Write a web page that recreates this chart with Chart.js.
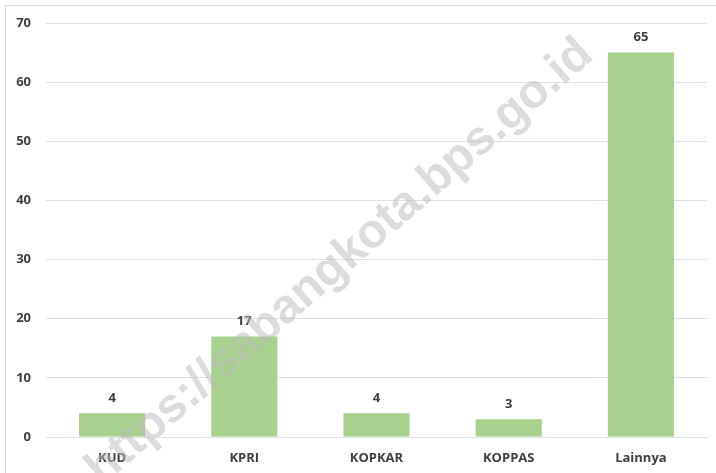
<!DOCTYPE html>
<html>
<head>
<meta charset="utf-8">
<script src="https://cdn.jsdelivr.net/npm/chart.js@4.4.0/dist/chart.umd.min.js"></script>
<style>
  html, body { margin: 0; padding: 0; background: #fff; overflow: hidden; }
  #wrap { position: relative; width: 716px; height: 473px; }
  #frame { position: absolute; left: 5px; top: 5px; width: 730px; height: 490px; border: 1px solid #d9d9d9; box-sizing: border-box; }
  #wrap canvas { position: absolute; left: 0; top: 0; }
</style>
</head>
<body>
<div id="wrap">
  <div id="frame"></div>
  <canvas id="barChart-koperasi" width="716" height="473"></canvas>
</div>
<script>
// data
const categories = ["KUD", "KPRI", "KOPKAR", "KOPPAS", "Lainnya"];
const jumlah = [4, 17, 4, 3, 65];
const yTicks = [0, 10, 20, 30, 40, 50, 60, 70];

const fontFamily = "'Open Sans', 'DejaVu Sans', sans-serif";

// angka di atas batang
const valueLabels = {
    id: 'valueLabels',
    afterDatasetsDraw(chart) {
        const ctx = chart.ctx;
        const meta = chart.getDatasetMeta(0);
        ctx.save();
        ctx.font = "bold 13px " + fontFamily;
        ctx.fillStyle = '#404040';
        ctx.textAlign = 'center';
        ctx.textBaseline = 'middle';
        meta.data.forEach((bar, i) => {
            ctx.fillText(String(jumlah[i]), bar.x, bar.y - 15);
        });
        ctx.restore();
    }
};

// watermark
const watermark = {
    id: 'watermark',
    afterDraw(chart) {
        const ctx = chart.ctx;
        ctx.save();
        ctx.translate(340, 262);
        ctx.rotate(-41 * Math.PI / 180);
        ctx.font = "bold 48px 'Liberation Sans', Arial, sans-serif";
        ctx.fillStyle = 'rgba(185,185,185,0.5)';
        ctx.textAlign = 'center';
        ctx.textBaseline = 'middle';
        ctx.fillText('https://sabangkota.bps.go.id', 0, 0);
        ctx.restore();
    }
};

let barCtx = document.getElementById("barChart-koperasi");
let barConfig = {
    type: 'bar',
    data: {
        labels: categories,
        datasets: [{
            data: jumlah,
            backgroundColor: '#a9d18e',
            borderWidth: 0,
            categoryPercentage: 1,
            barPercentage: 0.5,
        }]
    },
    options: {
        responsive: false,
        animation: false,
        layout: { padding: { top: 23, right: 9, left: 0, bottom: 0 } },
        plugins: {
            legend: { display: false },
            tooltip: { enabled: false },
        },
        scales: {
            x: {
                grid: { display: false, drawTicks: false },
                border: { display: true, color: '#dce1e7' },
                ticks: {
                    padding: 13,
                    color: '#404040',
                    font: { family: fontFamily, size: 13, weight: 'bold' },
                },
                afterFit(scale) { scale.height = 36; },
            },
            y: {
                min: 0,
                max: 70,
                afterBuildTicks(scale) { scale.ticks = yTicks.map(v => ({ value: v })); },
                grid: { color: '#dce1e7', drawTicks: false },
                border: { display: false },
                ticks: {
                    padding: 15,
                    color: '#404040',
                    font: { family: fontFamily, size: 13, weight: 'bold' },
                },
                afterFit(scale) { scale.width = 46; },
            }
        }
    },
    plugins: [valueLabels, watermark]
};
let barChart = new Chart(barCtx, barConfig);
</script>
</body>
</html>
